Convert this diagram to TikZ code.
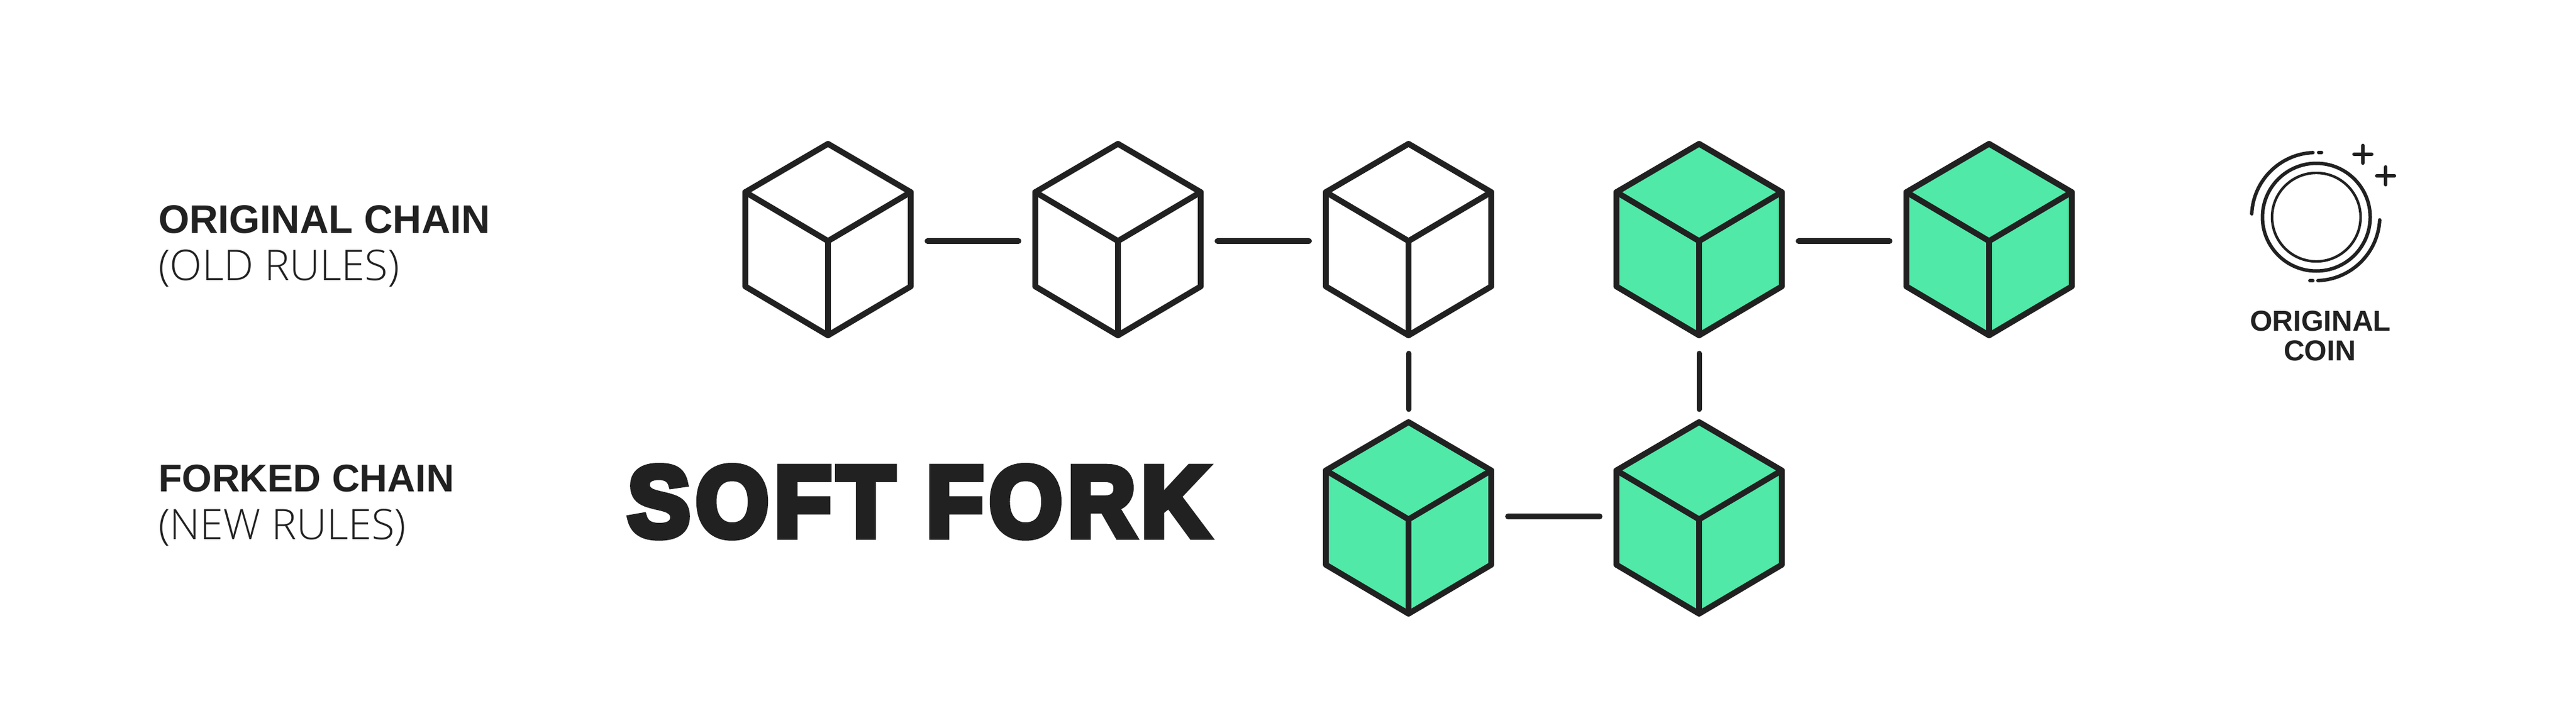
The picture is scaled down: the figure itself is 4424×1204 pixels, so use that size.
\documentclass[tikz,border=0pt]{standalone}
\usepackage{graphicx}
\usepackage{fontspec}
\setmainfont{Liberation Sans}
\newfontfamily\labelbold{Liberation Sans}
\newfontfamily\labellight{Open Sans Light}
\newfontfamily\heavy{Liberation Sans}[FakeBold=7,LetterSpace=6]
\definecolor{ink}{HTML}{212121}
\definecolor{mint}{HTML}{50E9A8}
\tikzset{
  txt/.style={inner sep=0pt,outer sep=0pt,anchor=base west,text=ink},
  cubebox/.style={inner sep=0pt,outer sep=0pt,minimum width=147pt,minimum height=165pt},
  cubeline/.style={draw=ink,line width=5pt,line join=round,line cap=round},
  link/.style={draw=ink,line width=5pt,line cap=round},
  vlink/.style={draw=ink,line width=4.5pt,line cap=round},
  coinline/.style={draw=ink,line width=3pt,line cap=round}
}
\newcommand{\cubeat}[4]{% name, x, y, fill
  \node[cubebox] (#1) at (#2,#3) {};
  \begin{scope}[shift={(#2,#3)}]
    \fill[#4] (0,-167) -- (142,-84) -- (142,78) -- (0,162) -- (-142,78) -- (-142,-84) -- cycle;
    \draw[cubeline] (0,-167) -- (142,-84) -- (142,78) -- (0,162) -- (-142,78) -- (-142,-84) -- cycle;
    \draw[cubeline] (-142,-84) -- (0,0) -- (142,-84);
    \draw[cubeline] (0,0) -- (0,162);
  \end{scope}
}
\begin{document}
\begin{tikzpicture}[x=0.5pt,y=-0.5pt]
\useasboundingbox[fill=white] (0,0) rectangle (4424,1204);
\cubeat{a}{1422}{414}{white}
\cubeat{b}{1920}{414}{white}
\cubeat{c}{2419}{414}{white}
\cubeat{d}{2918}{414}{mint}
\cubeat{e}{3416}{414}{mint}
\cubeat{f}{2419}{892}{mint}
\cubeat{g}{2918}{892}{mint}
\foreach \p/\q in {a/b,b/c,d/e}
  \draw[link,shorten <=12pt,shorten >=12pt] (\p.east) -- (\q.west);
\draw[link,shorten <=12pt,shorten >=12pt] ([yshift=2.5pt]f.east) -- ([yshift=2.5pt]g.west);
\draw[vlink,shorten <=14pt,shorten >=12pt] (c.south) -- (f.north);
\draw[vlink,shorten <=14pt,shorten >=12pt] (d.south) -- (g.north);
\node[txt] (l1) at (272,400) {\resizebox{285pt}{!}{\labelbold\bfseries ORIGINAL CHAIN}};
\node[txt] (l2) at (272,481) {\resizebox{207pt}{!}{\labellight (OLD RULES)}};
\node[txt] (l3) at (272,844) {\resizebox{254pt}{!}{\labelbold\bfseries FORKED CHAIN}};
\node[txt] (l4) at (272,926) {\resizebox{212.5pt}{!}{\labellight (NEW RULES)}};
\node[txt] (title) at (1078,921) {\resizebox{499pt}{60pt}{\heavy\bfseries SOFT FORK}};
% coin
\coordinate (cc) at (3978,373);
\coordinate (ca) at (3977,372);
\node[inner sep=0pt,minimum size=0pt] (coin) at (cc) {};
\draw[draw=ink,line width=2.2pt] (cc) circle[radius=38pt];
\draw[draw=ink,line width=3pt] (cc) circle[radius=46.25pt];
\draw[coinline] (ca) ++(177.5:55pt) arc[start angle=177.5,end angle=92.5,radius=55pt];
\draw[coinline] (ca) ++(-3:55pt) arc[start angle=-3,end angle=-88,radius=55pt];
\draw[coinline] (3982,262) -- (3987,262);
\draw[coinline] (3967,482) -- (3972,482);
\draw[coinline,line width=3.2pt] (4043,265) -- (4073,265) (4058,250) -- (4058,280);
\draw[coinline,line width=3.2pt] (4082,302) -- (4112,302) (4097,287) -- (4097,317);
\node[txt] (c1) at (3864,568) {\resizebox{121pt}{!}{\labelbold\bfseries ORIGINAL}};
\node[txt] (c2) at (3922,619) {\resizebox{62pt}{!}{\labelbold\bfseries COIN}};
\end{tikzpicture}
\end{document}
